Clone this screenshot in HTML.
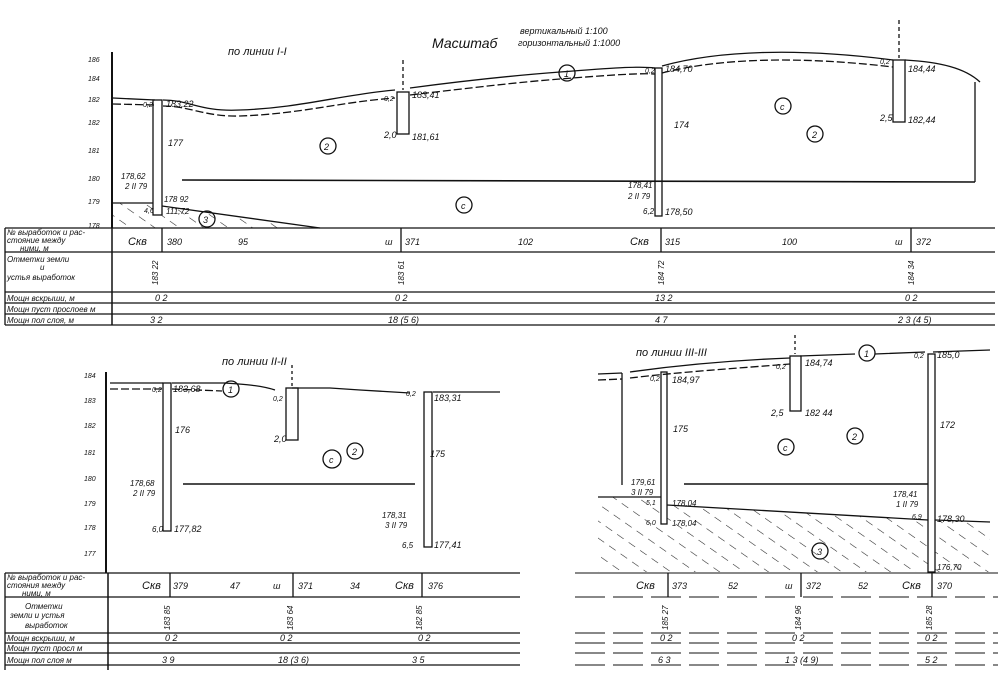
<!DOCTYPE html>
<html><head><meta charset="utf-8"><style>
html,body{margin:0;padding:0;background:#fff;}
svg{display:block;font-family:"Liberation Sans","DejaVu Sans",sans-serif;font-style:italic;}
text{fill:#111;}
</style></head><body>
<svg width="998" height="680" viewBox="0 0 998 680" xmlns="http://www.w3.org/2000/svg">
<defs>
<pattern id="h" width="14" height="14" patternUnits="userSpaceOnUse" patternTransform="rotate(-55)">
<line x1="0" y1="0" x2="0" y2="8" stroke="#222" stroke-width="1.1"/>
</pattern>
</defs>
<g stroke="#111" fill="none" stroke-width="1.3">
<!-- ===== TOP SECTION ===== -->
<line x1="112" y1="52" x2="112" y2="228" stroke-width="2"/>
<path d="M113 98 L155 100 M163 100 C190 100 200 112 240 110 C300 108 340 95 395 90 M410 88 C470 80 520 75 560 72 C610 68 640 66 655 68 M662 66 C720 50 800 48 893 60 M905 60 C940 62 965 68 980 82"/>
<path d="M113 104 L155 105 M163 106 C190 106 205 117 240 116 C300 114 340 102 395 98 M410 95 C470 88 520 82 560 79 C610 75 640 73 655 74 M662 73 C720 58 800 56 893 67" stroke-dasharray="8 3"/>
<rect x="153" y="100" width="9" height="115"/>
<rect x="397" y="92" width="12" height="42"/>
<line x1="403" y1="60" x2="403" y2="90" stroke-dasharray="4 3"/>
<rect x="655" y="68" width="7" height="148"/>
<rect x="893" y="60" width="12" height="62"/>
<line x1="899" y1="20" x2="899" y2="58" stroke-dasharray="4 3"/>
<line x1="975" y1="82" x2="975" y2="182"/>
<line x1="182" y1="180" x2="975" y2="182" stroke-width="1.6"/>
<line x1="113" y1="203" x2="153" y2="203"/>
<path d="M162 206 L320 228"/>
<polygon points="113,203 153,203 153,215 162,215 162,206 320,228 113,228" fill="url(#h)" stroke="none"/>
<circle cx="567" cy="73" r="8"/><circle cx="328" cy="146" r="8"/><circle cx="464" cy="205" r="8"/>
<circle cx="207" cy="219" r="8"/><circle cx="783" cy="106" r="8"/><circle cx="815" cy="134" r="8"/>
<!-- top table -->
<line x1="5" y1="228" x2="995" y2="228"/>
<line x1="5" y1="252" x2="995" y2="252"/>
<line x1="5" y1="292" x2="995" y2="292"/>
<line x1="5" y1="303" x2="995" y2="303"/>
<line x1="5" y1="314" x2="995" y2="314"/>
<line x1="5" y1="325" x2="995" y2="325"/>
<line x1="5" y1="228" x2="5" y2="325"/>
<line x1="112" y1="228" x2="112" y2="325" stroke-width="1.5"/>
<line x1="162" y1="228" x2="162" y2="252"/>
<line x1="401" y1="228" x2="401" y2="252"/>
<line x1="661" y1="228" x2="661" y2="252"/>
<line x1="911" y1="228" x2="911" y2="252"/>
<!-- ===== BOTTOM LEFT ===== -->
<line x1="106" y1="372" x2="106" y2="573" stroke-width="2"/>
<path d="M110 383 L163 383 M172 383 L225 383 C240 384 260 385 275 390 M292 388 L330 388 L360 390 L410 393 M433 392 L500 392"/>
<path d="M110 389 L163 389 M172 389 L222 391" stroke-dasharray="8 3"/>
<rect x="163" y="383" width="8" height="148"/>
<rect x="286" y="388" width="12" height="52"/>
<line x1="292" y1="365" x2="292" y2="386" stroke-dasharray="3 3"/>
<rect x="424" y="392" width="8" height="155"/>
<line x1="183" y1="484" x2="415" y2="484" stroke-width="1.6"/>
<circle cx="231" cy="389" r="8"/><circle cx="332" cy="459" r="9"/><circle cx="355" cy="451" r="8"/>
<!-- bottom-left table -->
<line x1="5" y1="573" x2="520" y2="573"/>
<line x1="5" y1="597" x2="520" y2="597"/>
<line x1="5" y1="633" x2="520" y2="633"/>
<line x1="5" y1="643" x2="520" y2="643"/>
<line x1="5" y1="653" x2="520" y2="653"/>
<line x1="5" y1="665" x2="520" y2="665"/>
<line x1="5" y1="573" x2="5" y2="670"/>
<line x1="108" y1="573" x2="108" y2="670" stroke-width="1.5"/>
<line x1="170" y1="573" x2="170" y2="597"/>
<line x1="293" y1="573" x2="293" y2="597"/>
<line x1="422" y1="573" x2="422" y2="597"/>
<!-- ===== BOTTOM RIGHT ===== -->
<path d="M598 374 L622 373 M630 372 C680 365 740 360 790 358 M800 356 L855 354 M875 354 L925 352 M933 352 L990 350"/>
<path d="M598 380 L622 379 M630 378 C680 372 740 368 790 364" stroke-dasharray="8 3"/>
<line x1="622" y1="373" x2="622" y2="485"/>
<rect x="661" y="372" width="6" height="152"/>
<rect x="790" y="356" width="11" height="55"/>
<line x1="795" y1="335" x2="795" y2="354" stroke-dasharray="3 3"/>
<rect x="928" y="354" width="7" height="218"/>
<line x1="684" y1="484" x2="928" y2="484" stroke-width="1.6"/>
<polygon points="598,497 661,497 661,524 667,524 667,505 928,520 928,572 598,572" fill="url(#h)" stroke="none"/>
<polygon points="935,520 990,522 990,572 935,572" fill="url(#h)" stroke="none"/>
<path d="M598 497 L661 497 M667 505 L928 520 M935 520 L990 522"/>
<circle cx="867" cy="353" r="8"/><circle cx="786" cy="447" r="8"/><circle cx="855" cy="436" r="8"/><circle cx="820" cy="551" r="8"/>
<!-- bottom-right table -->
<g stroke-dasharray="30 8" stroke-width="1.1">
<line x1="575" y1="573" x2="998" y2="573" stroke-dasharray="none"/>
<line x1="575" y1="597" x2="998" y2="597"/>
<line x1="575" y1="633" x2="998" y2="633"/>
<line x1="575" y1="643" x2="998" y2="643"/>
<line x1="575" y1="653" x2="998" y2="653"/>
<line x1="575" y1="665" x2="998" y2="665"/>
</g>
<line x1="668" y1="573" x2="668" y2="597"/>
<line x1="801" y1="573" x2="801" y2="597"/>
<line x1="932" y1="573" x2="932" y2="597"/>
</g>
<g font-size="9">
<!-- top labels -->
<text x="228" y="55" font-size="11">по линии I-I</text>
<text x="432" y="48" font-size="14">Масштаб</text>
<text x="520" y="34" font-size="9">вертикальный 1:100</text>
<text x="518" y="46" font-size="9">горизонтальный 1:1000</text>
<text x="88" y="62" font-size="7">186</text><text x="88" y="81" font-size="7">184</text>
<text x="88" y="102" font-size="7">182</text><text x="88" y="125" font-size="7">182</text>
<text x="88" y="153" font-size="7">181</text><text x="88" y="181" font-size="7">180</text>
<text x="88" y="204" font-size="7">179</text><text x="88" y="228" font-size="7">178</text>
<text x="143" y="107" font-size="7">0,2</text><text x="166" y="107">183,22</text>
<text x="168" y="146">177</text><text x="121" y="179" font-size="8">178,62</text><text x="125" y="189" font-size="8">2 II 79</text>
<text x="164" y="202" font-size="8">178 92</text><text x="144" y="213" font-size="7">4,6</text><text x="166" y="214" font-size="8">111,72</text>
<text x="324" y="150">2</text><text x="461" y="209">с</text><text x="203" y="223">3</text><text x="564" y="77">1</text>
<text x="384" y="101" font-size="7">0,2</text><text x="412" y="98">183,41</text>
<text x="384" y="138">2,0</text><text x="412" y="140">181,61</text>
<text x="645" y="73" font-size="7">0,2</text><text x="665" y="72">184,70</text>
<text x="674" y="128">174</text><text x="628" y="188" font-size="8">178,41</text><text x="628" y="199" font-size="8">2 II 79</text>
<text x="643" y="214" font-size="8">6,2</text><text x="665" y="215">178,50</text>
<text x="780" y="110">с</text><text x="812" y="138">2</text>
<text x="880" y="64" font-size="7">0,2</text><text x="908" y="72">184,44</text>
<text x="880" y="121">2,5</text><text x="908" y="123">182,44</text>
<!-- top table text -->
<text x="7" y="235" font-size="8">№ выработок и рас-</text>
<text x="7" y="243" font-size="8">стояние между</text>
<text x="20" y="251" font-size="8">ними, м</text>
<text x="7" y="262" font-size="8">Отметки земли</text>
<text x="40" y="270" font-size="8">и</text>
<text x="7" y="280" font-size="8">устья выработок</text>
<text x="7" y="301" font-size="8">Мощн вскрыши, м</text>
<text x="7" y="312" font-size="8">Мощн пуст прослоев м</text>
<text x="7" y="323" font-size="8">Мощн пол слоя, м</text>
<text x="128" y="245" font-size="11">Скв</text><text x="167" y="245">380</text><text x="238" y="245">95</text>
<text x="385" y="245">ш</text><text x="405" y="245">371</text><text x="518" y="245">102</text>
<text x="630" y="245" font-size="11">Скв</text><text x="665" y="245">315</text><text x="782" y="245">100</text>
<text x="895" y="245">ш</text><text x="916" y="245">372</text>
<text transform="translate(158,285) rotate(-90)" font-size="8">183 22</text>
<text transform="translate(404,285) rotate(-90)" font-size="8">183 61</text>
<text transform="translate(664,285) rotate(-90)" font-size="8">184 72</text>
<text transform="translate(914,285) rotate(-90)" font-size="8">184 34</text>
<text x="155" y="301">0 2</text><text x="395" y="301">0 2</text><text x="655" y="301">13 2</text><text x="905" y="301">0 2</text>
<text x="150" y="323">3 2</text><text x="388" y="323">18 (5 6)</text><text x="655" y="323">4 7</text><text x="898" y="323">2 3 (4 5)</text>
<!-- bottom-left labels -->
<text x="222" y="365" font-size="11">по линии II-II</text>
<text x="84" y="378" font-size="7">184</text><text x="84" y="403" font-size="7">183</text>
<text x="84" y="428" font-size="7">182</text><text x="84" y="455" font-size="7">181</text>
<text x="84" y="481" font-size="7">180</text><text x="84" y="506" font-size="7">179</text>
<text x="84" y="530" font-size="7">178</text><text x="84" y="556" font-size="7">177</text>
<text x="152" y="392" font-size="7">0,2</text><text x="173" y="392">183,68</text>
<text x="228" y="393">1</text><text x="273" y="401" font-size="7">0,2</text>
<text x="175" y="433">176</text><text x="130" y="486" font-size="8">178,68</text><text x="133" y="496" font-size="8">2 II 79</text>
<text x="152" y="532" font-size="8">6,0</text><text x="174" y="532">177,82</text>
<text x="274" y="442">2,0</text><text x="329" y="463">с</text><text x="352" y="455">2</text>
<text x="406" y="396" font-size="7">0,2</text><text x="434" y="401">183,31</text>
<text x="430" y="457">175</text><text x="382" y="518" font-size="8">178,31</text><text x="385" y="528" font-size="8">3 II 79</text>
<text x="402" y="548" font-size="8">6,5</text><text x="434" y="548">177,41</text>
<text x="7" y="580" font-size="8">№ выработок и рас-</text>
<text x="7" y="588" font-size="8">стояния между</text>
<text x="22" y="596" font-size="8">ними, м</text>
<text x="25" y="609" font-size="8">Отметки</text>
<text x="10" y="618" font-size="8">земли и устья</text>
<text x="25" y="628" font-size="8">выработок</text>
<text x="7" y="641" font-size="8">Мощн вскрыши, м</text>
<text x="7" y="651" font-size="8">Мощн пуст просл м</text>
<text x="7" y="663" font-size="8">Мощн пол слоя м</text>
<text x="142" y="589" font-size="11">Скв</text><text x="173" y="589">379</text><text x="230" y="589">47</text>
<text x="273" y="589">ш</text><text x="298" y="589">371</text><text x="350" y="589">34</text>
<text x="395" y="589" font-size="11">Скв</text><text x="428" y="589">376</text>
<text transform="translate(170,630) rotate(-90)" font-size="8">183 85</text>
<text transform="translate(293,630) rotate(-90)" font-size="8">183 64</text>
<text transform="translate(422,630) rotate(-90)" font-size="8">182 85</text>
<text x="165" y="641">0 2</text><text x="280" y="641">0 2</text><text x="418" y="641">0 2</text>
<text x="162" y="663">3 9</text><text x="278" y="663">18 (3 6)</text><text x="412" y="663">3 5</text>
<!-- bottom-right labels -->
<text x="636" y="356" font-size="11">по линии III-III</text>
<text x="650" y="381" font-size="7">0,2</text><text x="672" y="383">184,97</text>
<text x="673" y="432">175</text>
<text x="631" y="485" font-size="8">179,61</text><text x="631" y="495" font-size="8">3 II 79</text>
<text x="646" y="505" font-size="7">5,1</text><text x="672" y="506" font-size="8">178,04</text>
<text x="646" y="525" font-size="7">6,0</text><text x="672" y="526" font-size="8">178,04</text>
<text x="776" y="369" font-size="7">0,2</text><text x="805" y="366">184,74</text>
<text x="771" y="416">2,5</text><text x="805" y="416">182 44</text>
<text x="864" y="357">1</text><text x="783" y="451">с</text><text x="852" y="440">2</text><text x="817" y="555">3</text>
<text x="914" y="358" font-size="7">0,2</text><text x="937" y="358">185,0</text>
<text x="940" y="428">172</text>
<text x="893" y="497" font-size="8">178,41</text><text x="896" y="507" font-size="8">1 II 79</text>
<text x="912" y="519" font-size="7">6,9</text><text x="937" y="522">178,30</text><text x="937" y="570" font-size="8">176,70</text>
<text x="636" y="589" font-size="11">Скв</text><text x="672" y="589">373</text><text x="728" y="589">52</text>
<text x="785" y="589">ш</text><text x="806" y="589">372</text><text x="858" y="589">52</text>
<text x="902" y="589" font-size="11">Скв</text><text x="937" y="589">370</text>
<text transform="translate(668,630) rotate(-90)" font-size="8">185 27</text>
<text transform="translate(801,630) rotate(-90)" font-size="8">184 96</text>
<text transform="translate(932,630) rotate(-90)" font-size="8">185 28</text>
<text x="660" y="641">0 2</text><text x="792" y="641">0 2</text><text x="925" y="641">0 2</text>
<text x="658" y="663">6 3</text><text x="785" y="663">1 3 (4 9)</text><text x="925" y="663">5 2</text>
</g>
</svg>
</body></html>
